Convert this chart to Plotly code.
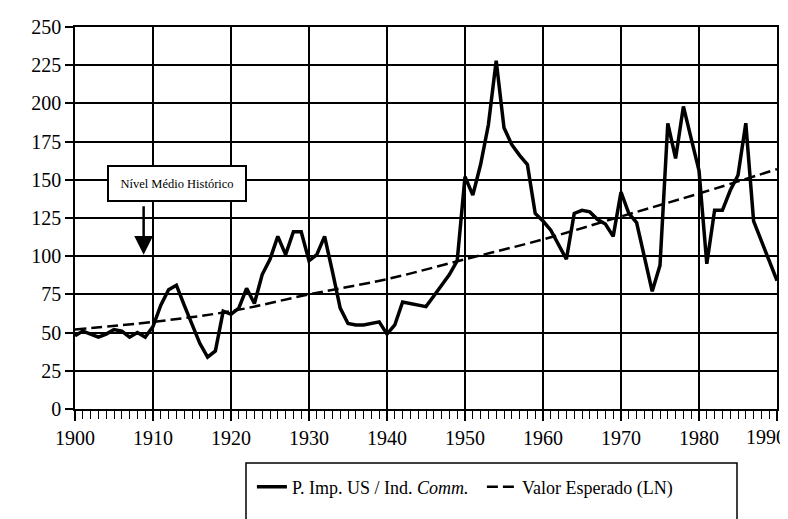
import plotly.graph_objects as go

# ---------------- data ----------------
years = list(range(1900, 1991))
price_ratio = [
    48, 51, 49, 47, 49, 52, 51, 47, 50, 47,        # 1900-1909
    54, 68, 78, 81, 68, 55, 43, 34, 38, 64,        # 1910-1919
    62, 66, 79, 69, 88, 98, 113, 101, 116, 116,    # 1920-1929
    97, 101, 113, 90, 66, 56, 55, 55, 56, 57,      # 1930-1939
    49, 55, 70, 69, 68, 67, 74, 81, 88, 97,        # 1940-1949
    152, 140, 160, 186, 228, 184, 173, 166, 160, 128,  # 1950-1959
    123, 117, 108, 98, 128, 130, 129, 124, 121, 113,   # 1960-1969
    142, 128, 122, 100, 77, 94, 187, 164, 198, 177,    # 1970-1979
    156, 95, 130, 130, 143, 153, 187, 123, 110, 97,    # 1980-1989
    84,                                                # 1990
]
trend_years = [1900, 1910, 1920, 1930, 1940, 1950, 1960, 1970, 1980, 1990]
trend_values = [52, 57, 64, 75, 85, 98, 111, 126, 141, 157]

name_main = "P. Imp. US / Ind. <i>Comm.</i>"
name_trend = "Valor Esperado (LN)"
annotation_text = "Nível Médio Histórico"
annot_arrow_year, annot_arrow_value = 1908.8, 101

y_ticks = list(range(0, 251, 25))
x_ticks = list(range(1900, 1991, 10))
x_tick_labels = [str(v) for v in x_ticks]

SERIF = "Liberation Serif, Times New Roman, serif"

# ---------------- figure ----------------
fig = go.Figure()
fig.add_trace(go.Scatter(
    x=years, y=price_ratio, mode="lines", name=name_main,
    line=dict(color="black", width=3.5),
))
fig.add_trace(go.Scatter(
    x=trend_years, y=trend_values, mode="lines", name=name_trend,
    line=dict(color="black", width=2.5, dash="11px,5px", shape="spline"),
))

tick_font = dict(family=SERIF, size=20, color="black")

# the last label (at the right edge) is drawn as an annotation so it stays inside the page
shown_x_labels = x_tick_labels[:-1] + [""]

# page body has an 8px margin, so the figure is sized/offset to compensate
fig.update_layout(
    width=780, height=511,
    margin=dict(l=67, r=11, t=19, b=110, autoexpand=False),
    paper_bgcolor="white", plot_bgcolor="white",
    showlegend=True,
    legend=dict(
        orientation="h", x=0.252, xanchor="left", y=-0.204, yanchor="middle",
        font=dict(family=SERIF, size=18, color="black"),
        bgcolor="rgba(0,0,0,0)", borderwidth=0,
        entrywidth=185, entrywidthmode="pixels",
    ),
    xaxis=dict(
        range=[1900, 1990], tickvals=x_ticks, ticktext=shown_x_labels,
        showgrid=True, gridcolor="black", gridwidth=1.5,
        showline=True, linecolor="black", linewidth=1.5, mirror=True,
        ticks="outside", ticklen=10, tickwidth=1.5, tickcolor="black",
        minor=dict(dtick=1, ticks="outside", ticklen=8, tickwidth=1.2, tickcolor="black", showgrid=False),
        tickfont=tick_font, zeroline=False, automargin=False,
    ),
    yaxis=dict(
        range=[0, 250], tickvals=y_ticks, ticktext=[str(v) for v in y_ticks],
        showgrid=True, gridcolor="black", gridwidth=1.5,
        showline=True, linecolor="black", linewidth=1.5, mirror=True,
        ticks="outside", ticklen=8, tickwidth=1.5, tickcolor="black",
        tickfont=tick_font, zeroline=False, automargin=False,
    ),
)

fig.add_annotation(
    x=1 + 10 / 702, y=(409 - 437) / 382, xref="paper", yref="paper",
    xanchor="right", yanchor="middle", text=x_tick_labels[-1], showarrow=False,
    font=tick_font, borderpad=0,
)

# arrow pointing at historical level
fig.add_annotation(
    x=annot_arrow_year, y=annot_arrow_value, xref="x", yref="y",
    text="", showarrow=True, ax=0, ay=-50,
    arrowhead=2, arrowsize=1.5, arrowwidth=2.5, arrowcolor="black",
)
# label box
fig.add_annotation(
    x=1913.1, y=147.3, xref="x", yref="y",
    text=annotation_text, showarrow=False,
    font=dict(family=SERIF, size=12.5, color="black"),
    bgcolor="white", bordercolor="black", borderwidth=2, borderpad=3,
    width=130, height=27,
)

# legend frame (extends below the visible page as in the original)
fig.add_shape(
    type="rect", xref="paper", yref="paper",
    x0=(246 - 75) / 702, x1=(737 - 75) / 702,
    y0=(409 - 540) / 382, y1=(409 - 463) / 382,
    line=dict(color="black", width=1.5), fillcolor="rgba(0,0,0,0)",
)

fig.write_html("out.html")
